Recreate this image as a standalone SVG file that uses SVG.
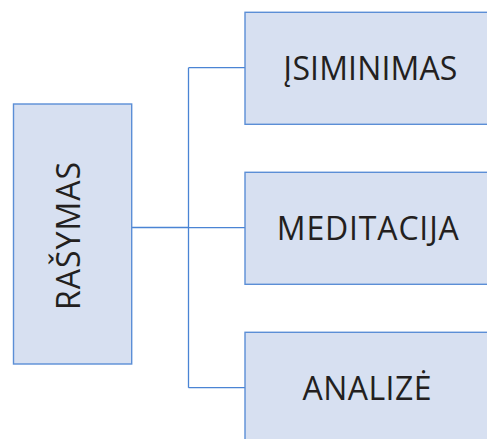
<svg xmlns="http://www.w3.org/2000/svg" width="487" height="439" viewBox="0 0 487 439">
  <style>
    .box { fill: #d7e0f1; stroke: #5b8ed6; stroke-width: 1.4; }
    .wire { fill: none; stroke: #4a84d4; stroke-width: 1.3; }
    .label { font-family: "Open Sans", "Noto Sans", sans-serif; font-size: 32px; fill: #231f20; text-anchor: middle; }
  </style>
  <rect width="487" height="439" fill="#ffffff"/>

  <g id="connectors">
    <path class="wire" d="M131.7,227.5 H188.5"/>
    <path class="wire" d="M188.5,67.7 V387.7"/>
    <path class="wire" d="M188.5,67.7 H245"/>
    <path class="wire" d="M188.5,227.7 H245"/>
    <path class="wire" d="M188.5,387.7 H245"/>
  </g>

  <g id="rasymas">
    <rect class="box" x="13.5" y="104" width="118.2" height="260"/>
    <text class="label" transform="translate(80,236) rotate(-90)" textLength="148">RAŠYMAS</text>
  </g>

  <g id="isiminimas">
    <rect class="box" x="245" y="12.3" width="250" height="112"/>
    <text class="label" x="370.3" y="80" textLength="174">ĮSIMINIMAS</text>
  </g>

  <g id="meditacija">
    <rect class="box" x="245" y="172.3" width="250" height="112"/>
    <text class="label" x="367.8" y="240" textLength="182">MEDITACIJA</text>
  </g>

  <g id="analize">
    <rect class="box" x="245" y="332.3" width="250" height="120"/>
    <text class="label" x="367" y="400" textLength="129">ANALIZĖ</text>
  </g>
</svg>
